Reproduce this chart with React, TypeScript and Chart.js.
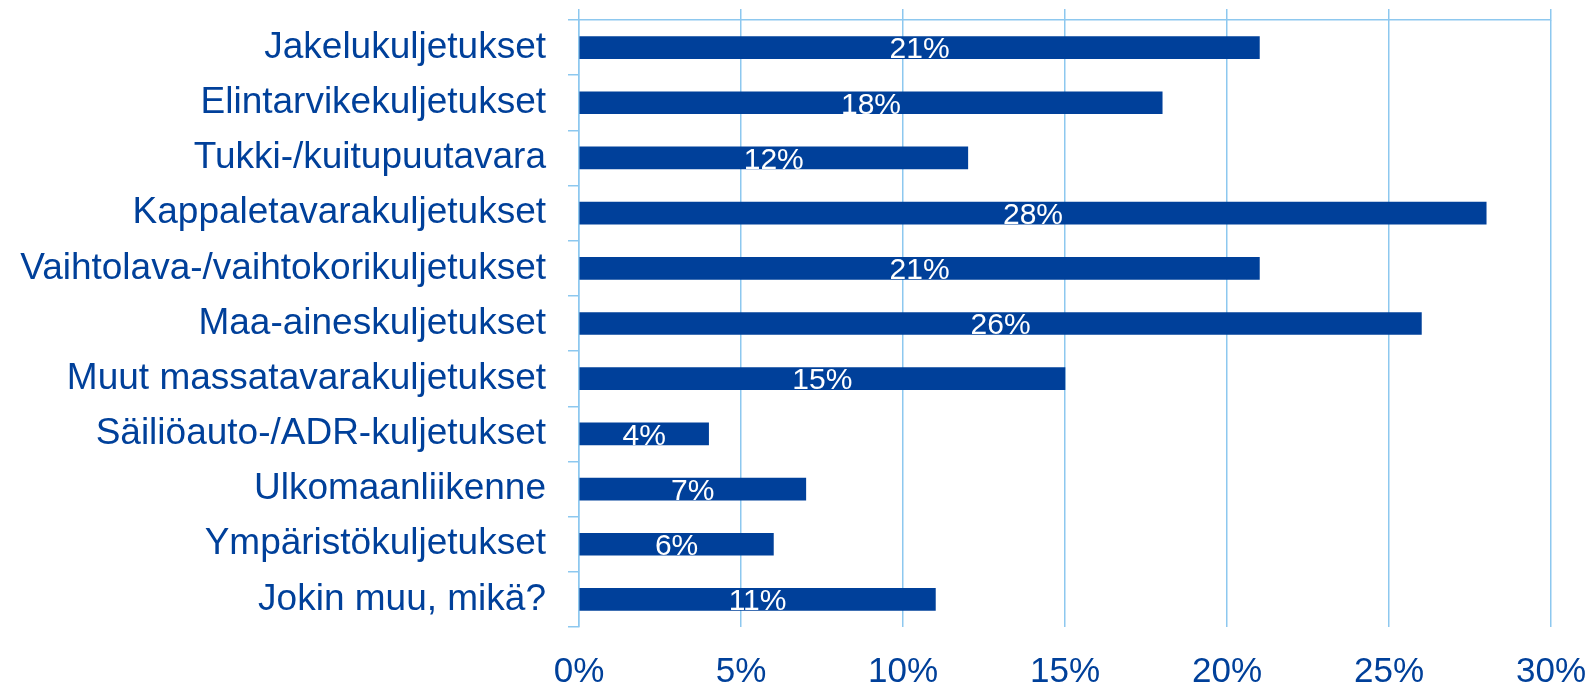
import React, { useEffect, useRef } from "react";
import { Chart, registerables } from "chart.js";

Chart.register(...registerables);

const categories = [
  "Jakelukuljetukset",
  "Elintarvikekuljetukset",
  "Tukki-/kuitupuutavara",
  "Kappaletavarakuljetukset",
  "Vaihtolava-/vaihtokorikuljetukset",
  "Maa-aineskuljetukset",
  "Muut massatavarakuljetukset",
  "Säiliöauto-/ADR-kuljetukset",
  "Ulkomaanliikenne",
  "Ympäristökuljetukset",
  "Jokin muu, mikä?",
];
const values = [21, 18, 12, 28, 21, 26, 15, 4, 7, 6, 11];
const xTickMin = 0;
const xTickMax = 30;
const xTickStep = 5;

const DARK = "#00409A";
const GRID = "#8DC8EF";
const FONT = "'Liberation Sans', Arial, sans-serif";
const LW = 1.5;

const barLabels = {
  id: "barLabels",
  afterDatasetsDraw(chart: any) {
    const ctx = chart.ctx;
    const meta = chart.getDatasetMeta(0);
    ctx.save();
    ctx.fillStyle = "#ffffff";
    ctx.font = `30px ${FONT}`;
    ctx.textAlign = "center";
    ctx.textBaseline = "alphabetic";
    meta.data.forEach((el: any, i: number) => {
      const p = el.getProps(["x", "y", "base"], true);
      const cx = (p.x + p.base) / 2;
      ctx.fillText(values[i] + "%", cx, p.y + 10.8);
    });
    ctx.restore();
  },
};

export default function App() {
  const ref = useRef<HTMLCanvasElement | null>(null);
  useEffect(() => {
    document.body.style.margin = "0";
    const chart = new Chart(ref.current!, {
      type: "bar",
      data: {
        labels: categories,
        datasets: [
          {
            data: values,
            backgroundColor: DARK,
            barThickness: 22,
            xAxisID: "x",
          },
        ],
      },
      options: {
        indexAxis: "y",
        animation: false,
        responsive: true,
        maintainAspectRatio: false,
        layout: { padding: { left: 0, right: 40, top: 9, bottom: 0 } },
        plugins: { legend: { display: false }, tooltip: { enabled: false } },
        scales: {
          x: {
            position: "bottom",
            min: xTickMin,
            max: xTickMax,
            afterFit: (scale: any) => {
              scale.height = 59;
              scale.paddingLeft = 0;
              scale.paddingRight = 0;
            },
            ticks: {
              stepSize: xTickStep,
              color: DARK,
              font: { family: FONT, size: 35, lineHeight: 1 },
              padding: 28,
              callback: (v: any) => v + "%",
            },
            grid: { color: GRID, drawTicks: false, lineWidth: LW },
            border: { display: false },
          },
          x2: {
            position: "top",
            min: xTickMin,
            max: xTickMax,
            ticks: { display: false, stepSize: xTickStep },
            grid: {
              color: GRID,
              drawOnChartArea: false,
              tickLength: 11,
              lineWidth: LW,
            },
            border: { display: true, color: GRID, width: LW },
          },
          y: {
            afterFit: (scale: any) => {
              scale.paddingTop = 0;
              scale.paddingBottom = 0;
              scale.width = 579;
            },
            ticks: {
              color: DARK,
              font: { family: FONT, size: 37 },
              padding: 22,
            },
            grid: {
              offset: true,
              drawOnChartArea: false,
              tickLength: 11,
              color: GRID,
              tickColor: GRID,
              lineWidth: LW,
            },
            border: { display: true, color: GRID, width: LW },
          },
        },
      },
      plugins: [barLabels],
    });
    return () => chart.destroy();
  }, []);
  return (
    <div style={{ position: "relative", width: 1591, height: 686 }}>
      <canvas ref={ref} />
    </div>
  );
}
